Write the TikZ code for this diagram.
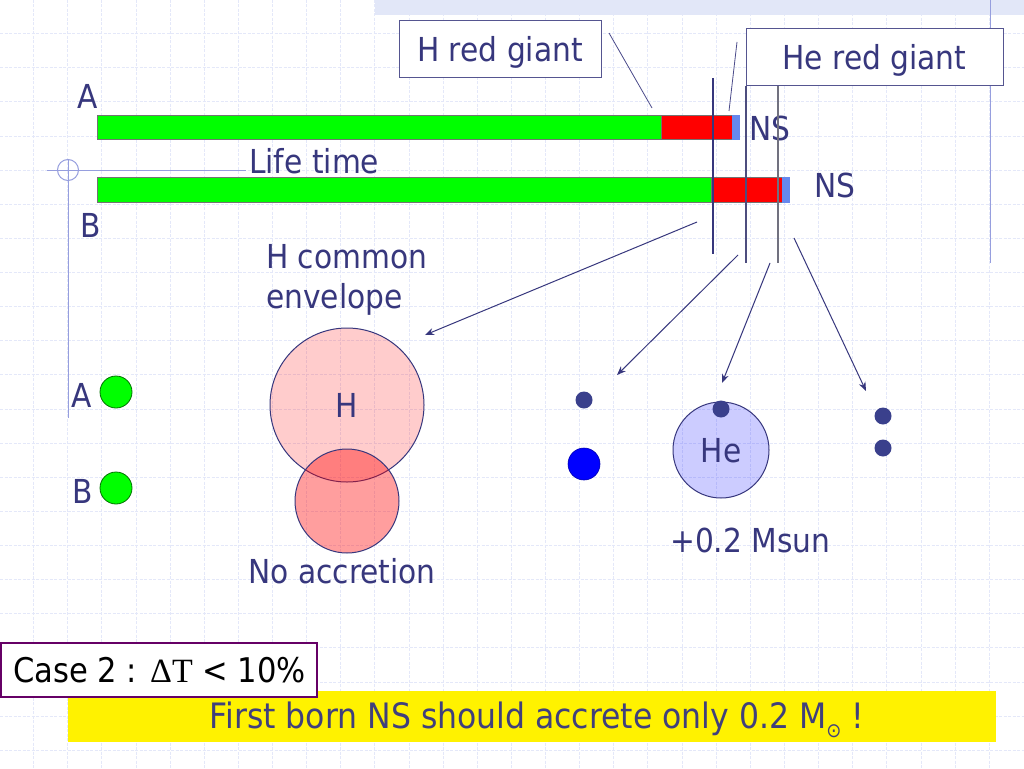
\documentclass[tikz,border=0pt]{standalone}
\usepackage{fontspec}
\setmainfont{DejaVu Sans Condensed}
\newfontfamily\deltafont{Liberation Serif}
\usetikzlibrary{arrows.meta}
\definecolor{navy}{RGB}{55,55,125}
\definecolor{gridc}{RGB}{228,232,249}
\definecolor{bandc}{RGB}{226,231,248}
\definecolor{tmplc}{RGB}{150,158,222}
\definecolor{barblue}{RGB}{102,136,238}
\definecolor{dotc}{RGB}{58,64,140}
\definecolor{casec}{RGB}{102,0,102}
\definecolor{yellowtxt}{RGB}{64,64,124}
\tikzset{
  gridline/.style={draw=gridc, line width=1pt, dash pattern=on 3pt off 1.5pt},
  tmpl/.style={draw=tmplc, line width=1pt},
  lbl/.style={inner sep=0pt, text=navy, font=\fontsize{33}{40}\selectfont},
  barseg/.style={draw=black!55, line width=0.8pt},
  calloutbox/.style={draw=navy!85, line width=1pt, fill=white, inner sep=0pt,
     text=navy, font=\fontsize{33}{40}\selectfont, text height=24pt, text depth=0pt},
  calloutline/.style={draw=navy!90, line width=0.8pt},
  marker/.style={line width=1.2pt},
  arr/.style={draw=navy, line width=1pt, -{Stealth[length=9pt,width=7pt]}},
  star/.style={circle, inner sep=0pt, draw=navy, line width=1pt},
  dotnode/.style={circle, inner sep=0pt, minimum size=17pt, fill=dotc},
}
\begin{document}
\begin{tikzpicture}[x=1pt,y=-1pt]
\useasboundingbox (0,0) rectangle (1024,768);
\fill[white] (0,0) rectangle (1024,768);
% background grid
\foreach \k in {1,...,29} \draw[gridline] ({34.13*\k-0.5},0) -- ({34.13*\k-0.5},768);
\foreach \k in {1,...,22} \draw[gridline] (0,{34.13*\k-0.5}) -- (1024,{34.13*\k-0.5});
% template decorations
\fill[bandc] (375,0) rectangle (1024,15);
\draw[tmpl] (990,0) -- (990,263);
\draw[tmpl] (47,170) -- (246,170);
\draw[tmpl] (68,159) -- (68,418);
\draw[tmpl] (68,170) circle (10.5);

% life-time bars
\draw[barseg, fill=green] (97,115) rectangle (661,139);
\draw[barseg, fill=red] (661,115) rectangle (732,139);
\draw[barseg, fill=barblue, draw=barblue] (732,115) rectangle (739,139);
\draw[barseg, fill=green] (97,177) rectangle (711,202);
\draw[barseg, fill=red] (711,177) rectangle (782,202);
\draw[barseg, fill=barblue, draw=barblue] (782,177) rectangle (789,202);

\node[lbl, anchor=base west] (la) at (77,108) {A};
\node[lbl, anchor=base west] (lb) at (80,237) {B};
\node[lbl, anchor=base west] (life) at (249,173) {Life time};
\node[lbl, anchor=base west] (nsa) at (749,140) {NS};
\node[lbl, anchor=base west] (nsb) at (814,197) {NS};

% callout boxes
\node[calloutbox, minimum width=202pt, minimum height=56pt] (hrg) at (500,49) {H red giant};
\node[calloutbox, minimum width=257pt, minimum height=56pt] (herg) at (874.5,57) {He red giant};
\coordinate (hrgS) at (609,33);
\coordinate (hrgE) at (652,108);
\coordinate (hergS) at (737,42);
\coordinate (hergE) at (729,111);
\draw[calloutline] (hrgS) -- (hrgE);
\draw[calloutline] (hergS) -- (hergE);

% phase marker lines
\coordinate (m1t) at (713,78);  \coordinate (m1b) at (713,254);
\coordinate (m2t) at (746,86);  \coordinate (m2b) at (746,263);
\coordinate (m3t) at (778,86);  \coordinate (m3b) at (778,263);
\draw[marker, draw=navy] (m1t) -- (m1b);
\draw[marker, draw=navy!70!gray] (m2t) -- (m2b);
\draw[marker, draw=gray!80!navy] (m3t) -- (m3b);

% initial stars
\node[lbl, anchor=base west] (sa) at (71,407) {A};
\node[lbl, anchor=base west] (sb) at (72,503) {B};
\node[circle, inner sep=0pt, minimum size=32pt, fill=green, draw=green!45!black, line width=0.8pt] (ga) at (116,392) {};
\node[circle, inner sep=0pt, minimum size=32pt, fill=green, draw=green!45!black, line width=0.8pt] (gb) at (116,488) {};

% H common envelope
\node[lbl, anchor=base west] (hce1) at (266,268) {H common};
\node[lbl, anchor=base west] (hce2) at (266,308) {envelope};
\node[star, minimum size=154pt, fill=red, fill opacity=0.2, text opacity=1, text=navy,
      font=\fontsize{33}{40}\selectfont, text height=24pt, text depth=0pt] (hbig) at (347,405) {H};
\node[star, minimum size=104pt, fill=red, fill opacity=0.38] (hsmall) at (347,501) {};
\node[lbl, anchor=base] (noacc) at (342,583) {No accretion};

% after first supernova
\node[dotnode] (d1) at (584,400) {};
\node[circle, inner sep=0pt, minimum size=32pt, fill=blue, draw=blue!70!black, line width=0.6pt] (d2) at (584,464) {};

% He phase
\node[star, minimum size=96pt, fill=blue, fill opacity=0.2, text opacity=1, text=navy,
      font=\fontsize{33}{40}\selectfont, text height=24pt, text depth=0pt] (hec) at (721,450) {He};
\node[dotnode] (d3) at (721,409) {};
\node[lbl, anchor=base west] (msun) at (670,552) {+0.2 Msun};

% final pair
\node[dotnode] (d4) at (883,416) {};
\node[dotnode] (d5) at (883,448) {};

% arrows
\coordinate (a1s) at (697,222); \coordinate (a1e) at (425,335);
\coordinate (a2s) at (738,255); \coordinate (a2e) at (617,375);
\coordinate (a3s) at (770,263); \coordinate (a3e) at (722,383);
\coordinate (a4s) at (794,238); \coordinate (a4e) at (866,391);
\draw[arr] (a1s) -- (a1e);
\draw[arr] (a2s) -- (a2e);
\draw[arr] (a3s) -- (a3e);
\draw[arr] (a4s) -- (a4e);

% conclusion
\node[fill=yellow, inner sep=0pt, minimum width=928pt, minimum height=51pt] (concl) at (532,716) {};
\node[inner sep=0pt, anchor=base, text=yellowtxt, font=\fontsize{35}{40}\selectfont] (concltxt) at (537,728)
  {First born NS should accrete only 0.2 M\raisebox{-0.28em}{\fontsize{20}{20}\selectfont ⊙} !};
\node[draw=casec, line width=2pt, fill=white, inner sep=0pt, minimum width=316pt, minimum height=54pt] (case) at (158.5,669.5) {};
\node[inner sep=0pt, anchor=base west, text=black, font=\fontsize{34}{40}\selectfont] (casetxt) at (13,682)
  {Case 2 : {\deltafont ΔT} < 10\%};
\end{tikzpicture}
\end{document}
